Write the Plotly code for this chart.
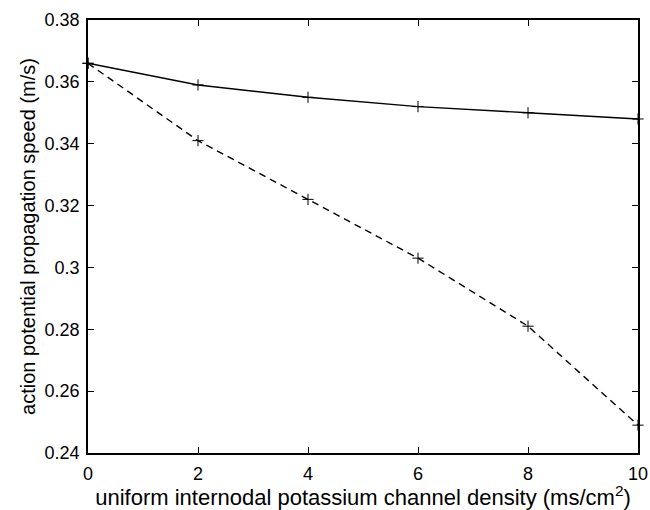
import plotly.graph_objects as go

density = [0, 2, 4, 6, 8, 10]
speed_solid = [0.366, 0.359, 0.355, 0.352, 0.350, 0.348]
speed_dashed = [0.366, 0.341, 0.322, 0.303, 0.281, 0.249]

x_ticks = [0, 2, 4, 6, 8, 10]
y_ticks = [0.24, 0.26, 0.28, 0.30, 0.32, 0.34, 0.36, 0.38]
y_tick_text = ["0.24", "0.26", "0.28", "0.3", "0.32", "0.34", "0.36", "0.38"]

FONT = "Liberation Sans, Arial, sans-serif"

fig = go.Figure()
fig.add_trace(go.Scatter(
    x=density, y=speed_solid, mode="lines+markers",
    line=dict(color="black", width=1.4, dash="solid"),
    marker=dict(symbol="cross-thin", size=8, line=dict(color="black", width=1)),
    showlegend=False, cliponaxis=False,
))
fig.add_trace(go.Scatter(
    x=density, y=speed_dashed, mode="lines+markers",
    line=dict(color="black", width=1.4, dash="7px,5px"),
    marker=dict(symbol="cross-thin", size=8, line=dict(color="black", width=1)),
    showlegend=False, cliponaxis=False,
))

axis_common = dict(
    showline=True, linecolor="black", linewidth=1.5, mirror="ticks",
    ticks="inside", ticklen=6, tickwidth=1, tickcolor="black",
    showgrid=False, zeroline=False, automargin=False,
    tickfont=dict(family=FONT, size=18, color="black"),
)

fig.update_layout(
    width=650, height=510,
    paper_bgcolor="white", plot_bgcolor="white",
    margin=dict(l=88, r=12, t=20, b=57),
    font=dict(family=FONT, size=18, color="black"),
    xaxis=dict(
        range=[0, 10], tickvals=x_ticks, ticklabelstandoff=4,
        title=dict(text="uniform internodal potassium channel density (ms/cm<sup>2</sup>)",
                   standoff=6, font=dict(family=FONT, size=22, color="black")),
        **axis_common,
    ),
    yaxis=dict(
        range=[0.24, 0.38], tickvals=y_ticks, ticktext=y_tick_text,
        ticklabelstandoff=3,
        title=dict(text="action potential propagation speed (m/s)", standoff=4,
                   font=dict(family=FONT, size=20, color="black")),
        **axis_common,
    ),
)

fig.write_html("out.html")
